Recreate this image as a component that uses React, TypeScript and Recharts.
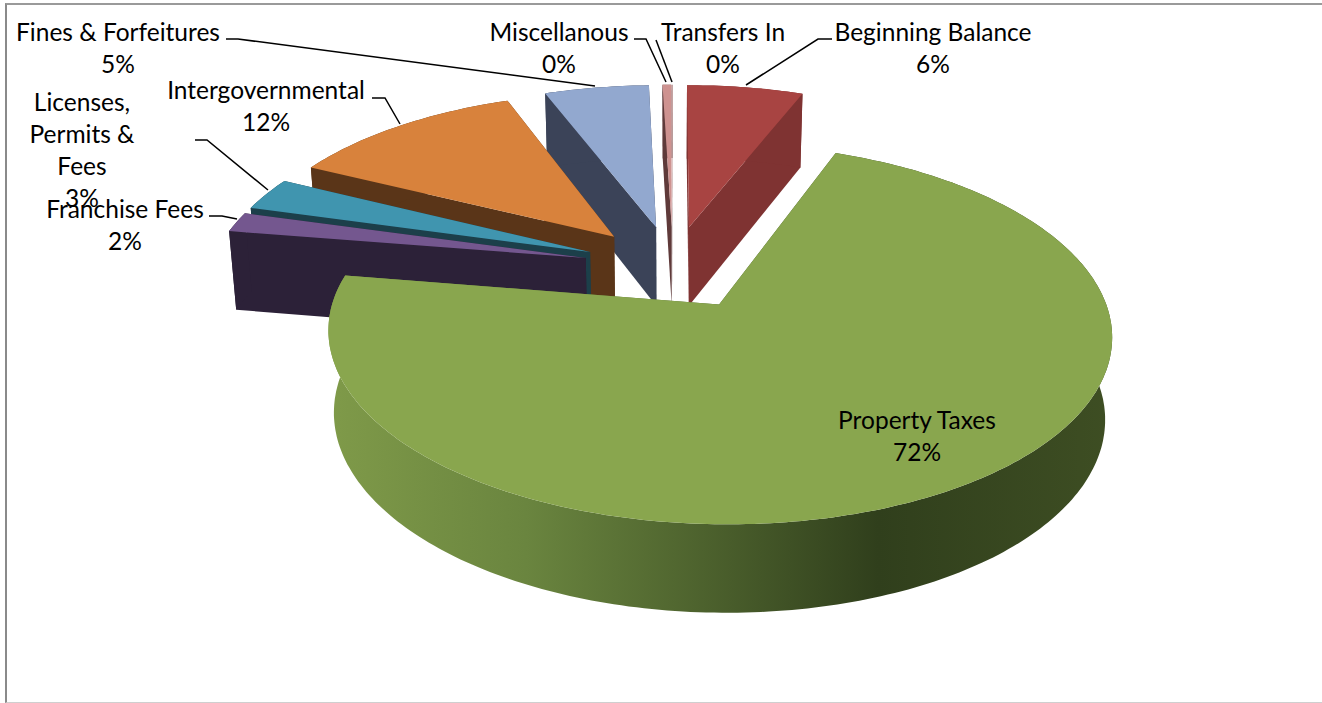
import React from 'react';
import { PieChart, Pie } from 'recharts';

const categories = ['Beginning Balance', 'Transfers In', 'Miscellanous', 'Fines & Forfeitures', 'Intergovernmental', 'Licenses, Permits & Fees', 'Franchise Fees', 'Property Taxes'];
const shares = [5.9, 0.02, 0.45, 5.3, 11.9, 3.0, 1.8, 71.8];
const topColors = ['#A84442', '#CE9290', '#CE9290', '#92A8CF', '#D8823C', '#4095AF', '#74578F', '#89A64E'];
const wallColors = ['#7F3332', '#5F3A3A', '#5F3A3A', '#3B4358', '#5A3518', '#1C3F4A', '#2C2138', 'url(#greenWall)'];

const data = categories.map((name, i) => ({ name, value: shares[i], top: topColors[i], wall: wallColors[i] }));
const total = shares.reduce((a, b) => a + b, 0);

// 3D view of the pie plane
const TILT = 0.465;
const PERSPECTIVE = 0.15;
const EXPLODE = 0.24;
const DEPTH = 80;
const CONVERGE = 0.0002;

const FONT = 'Lato, "Open Sans", sans-serif';

type LabelSpot = { x: number; lines: string[]; ys: number[]; leader?: number[][] };
const labelSpots: Record<string, LabelSpot> = {
  'Fines & Forfeitures': { x: 118, lines: ['Fines & Forfeitures'], ys: [41, 73], leader: [[226, 39], [238, 39], [595, 86]] },
  'Intergovernmental': { x: 266, lines: ['Intergovernmental'], ys: [99, 131], leader: [[372, 98], [385, 98], [400, 124]] },
  'Licenses, Permits & Fees': { x: 82, lines: ['Licenses,', 'Permits &', 'Fees'], ys: [111, 143, 175, 207], leader: [[195, 140], [207, 140], [268, 190]] },
  'Franchise Fees': { x: 125, lines: ['Franchise Fees'], ys: [218, 250], leader: [[209, 216], [222, 216], [237, 219]] },
  'Miscellanous': { x: 559, lines: ['Miscellanous'], ys: [41, 73], leader: [[634, 39], [646, 39], [666, 82]] },
  'Transfers In': { x: 723, lines: ['Transfers In'], ys: [41, 73], leader: [[656, 40], [672, 82]] },
  'Beginning Balance': { x: 933, lines: ['Beginning Balance'], ys: [41, 73], leader: [[832, 39], [818, 39], [746, 85]] },
  'Property Taxes': { x: 917, lines: ['Property Taxes'], ys: [429, 461] },
};

const rad = (d: number) => (d * Math.PI) / 180;

function Slice(props: any) {
  const { cx, cy, outerRadius: R, startAngle, endAngle, payload } = props;
  const top = props.top ?? payload?.top;
  const wall = props.wall ?? payload?.wall;
  const mid = (startAngle + endAngle) / 2;
  const ox = EXPLODE * Math.cos(rad(mid));
  const oy = EXPLODE * Math.sin(rad(mid));
  const project = (u: number, v: number, z: number): [number, number] => {
    const s = 1 / (1 + PERSPECTIVE * v);
    return [cx + R * u * s * (1 - CONVERGE * z), cy - R * TILT * v * s + z * Math.sqrt(s)];
  };
  const onRim = (a: number, z: number) => project(ox + Math.cos(rad(a)), oy + Math.sin(rad(a)), z);
  const apex = (z: number) => project(ox, oy, z);
  const toPath = (pts: [number, number][]) =>
    'M' + pts.map((p) => `${p[0].toFixed(1)},${p[1].toFixed(1)}`).join('L') + 'Z';
  const steps = Math.max(2, Math.ceil(Math.abs(endAngle - startAngle)));
  const rimAngles = Array.from({ length: steps + 1 }, (_, i) => startAngle + ((endAngle - startAngle) * i) / steps);
  const topRim = rimAngles.map((a) => onRim(a, 0));
  const lowRim = rimAngles.map((a) => onRim(a, DEPTH));
  const band = toPath([...topRim, ...lowRim.slice().reverse()]);
  const face = toPath([apex(0), ...topRim]);
  const wallA = toPath([apex(0), onRim(startAngle, 0), onRim(startAngle, DEPTH), apex(DEPTH)]);
  const wallB = toPath([apex(0), onRim(endAngle, 0), onRim(endAngle, DEPTH), apex(DEPTH)]);
  return (
    <g>
      <defs>
        <linearGradient id="greenWall" gradientUnits="userSpaceOnUse" x1="330" x2="1113" y1="0" y2="0">
          <stop offset="0" stopColor="#7F9A49" />
          <stop offset="0.25" stopColor="#6A853F" />
          <stop offset="0.7" stopColor="#303F1C" />
          <stop offset="1" stopColor="#3E4E23" />
        </linearGradient>
      </defs>
      <path d={wallA} fill={wall} stroke="none" />
      <path d={wallB} fill={wall} stroke="none" />
      <path d={band} fill={wall} stroke="none" />
      <path d={face} fill={top} stroke="none" />
    </g>
  );
}

function SliceLabel(props: any) {
  const spot = labelSpots[props.name];
  if (!spot) return null;
  const pct = `${Math.round((props.value / total) * 100)}%`;
  const all = [...spot.lines, pct];
  return (
    <g>
      {spot.leader && (
        <polyline points={spot.leader.map((p) => p.join(',')).join(' ')} fill="none" stroke="#000" strokeWidth={1.5} />
      )}
      {all.map((t, i) => (
        <text key={i} x={spot.x} y={spot.ys[i]} textAnchor="middle" fontFamily={FONT} fontSize={24.5} fill="#000">
          {t}
        </text>
      ))}
    </g>
  );
}

export default function App() {
  const start = 90 - (shares[0] / total) * 360;
  return (
    <div style={{ position: 'absolute', left: 0, top: 0, width: 1322, height: 703, background: '#fff', overflow: 'hidden' }}>
      <div style={{ position: 'absolute', left: 5, top: 3, right: -2, bottom: 0, borderLeft: '2px solid #8A8A8A', borderTop: '2px solid #9A9A9A', borderBottom: '1px solid #CFCFCF', boxSizing: 'border-box' }} />
      <div style={{ position: 'absolute', left: 0, top: 0 }}>
        <PieChart width={1322} height={703} margin={{ top: 0, right: 0, bottom: 0, left: 0 }}>
          <Pie
            data={data}
            dataKey="value"
            nameKey="name"
            cx={673}
            cy={267}
            innerRadius={0}
            outerRadius={375}
            startAngle={start}
            endAngle={start + 360}
            paddingAngle={0}
            stroke="none"
            isAnimationActive={false}
            shape={Slice}
            inactiveShape={Slice}
            activeShape={Slice}
            label={SliceLabel}
            labelLine={false}
          />
        </PieChart>
      </div>
    </div>
  );
}
